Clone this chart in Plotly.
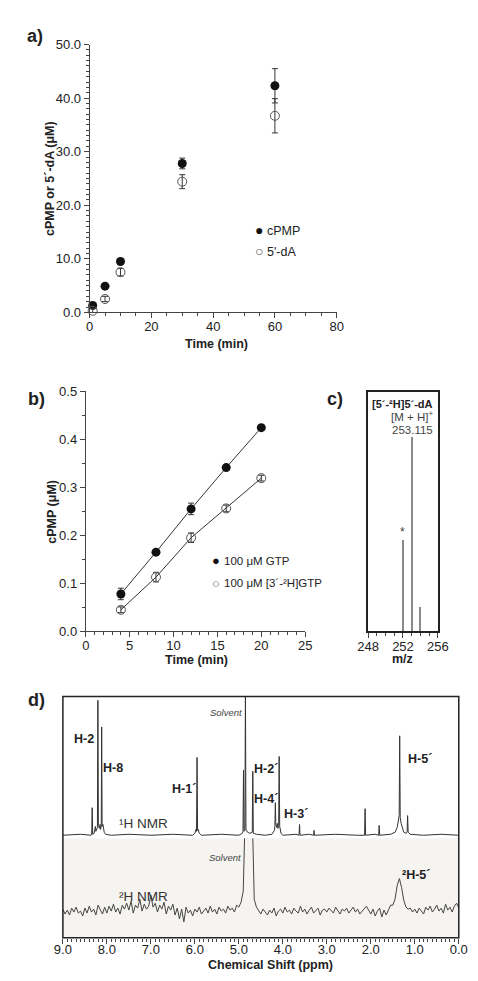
import numpy as np
import plotly.graph_objects as go

W, H = 478, 981
def px(x): return x / W
def py(y): return 1 - y / H

FONT = "Liberation Sans, Arial, sans-serif"
TXT = "#222"
AX = "#444"

# ---------------- Panel a ----------------
a_time = [1, 5, 10, 30, 60]
a_cpmp = [1.3, 4.9, 9.5, 27.8, 42.3]
a_cpmp_err = [0.2, 0.3, 0.4, 1.0, 3.2]
a_da = [0.3, 2.5, 7.5, 24.4, 36.7]
a_da_err = [0.4, 0.5, 0.7, 1.3, 3.2]

# ---------------- Panel b ----------------
b_time = [4, 8, 12, 16, 20]
b_gtp = [0.078, 0.165, 0.255, 0.341, 0.424]
b_gtp_err = [0.012, 0.005, 0.012, 0.005, 0.004]
b_d = [0.045, 0.113, 0.195, 0.256, 0.319]
b_d_err = [0.006, 0.010, 0.010, 0.007, 0.006]

# ---------------- Panel c ----------------
c_mz = [252, 253, 254]
c_int = [38, 81, 10]

# ---------------- Panel d ----------------
h1_ppm = [9.00, 8.60, 8.36, 8.345, 8.334, 8.323, 8.29, 8.27, 8.26, 8.25, 8.215, 8.204, 8.193,
          8.17, 8.155, 8.145, 8.128, 8.118, 8.108, 8.09, 8.075, 8.06, 8.03, 7.90, 7.50, 7.00,
          6.50, 6.05, 6.00, 5.975, 5.962, 5.950, 5.938, 5.925, 5.90, 5.85, 5.40, 5.00, 4.92,
          4.905, 4.894, 4.883, 4.862, 4.850, 4.838, 4.80, 4.75, 4.695, 4.683, 4.671, 4.60,
          4.40, 4.25, 4.19, 4.18, 4.170, 4.160, 4.14, 4.126, 4.11, 4.095, 4.083, 4.071, 4.055,
          4.04, 4.00, 3.70, 3.632, 3.620, 3.608, 3.40, 3.30, 3.29, 3.28, 2.80, 2.30, 2.142,
          2.130, 2.118, 1.90, 1.822, 1.810, 1.798, 1.55, 1.45, 1.40, 1.37, 1.355, 1.343, 1.331,
          1.31, 1.28, 1.25, 1.20, 1.175, 1.163, 1.151, 1.10, 0.80, 0.40, 0.00]
h1_int = [0, 1, 0, 1, 28, 1, 2, 6, 9, 4, 8, 137, 10,
          7, 11, 6, 9, 110, 9, 11, 7, 3, 1, 0, 1, 0,
          1, 0, 2, 6, 4, 79, 5, 6, 2, 0, 1, 0, 2,
          4, 66, 4, 5, 150, 6, 3, 2, 3, 65, 2, 1,
          0, 1, 5, 10, 33, 11, 8, 12, 7, 10, 80, 9, 6,
          2, 0, 1, 0, 11, 0, 1, 0, 5, 0, 1, 0, 0,
          27, 0, 1, 0, 10, 0, 1, 3, 8, 15, 20, 101, 18,
          12, 6, 3, 2, 3, 20, 3, 1, 0, 1, 0]

h2_int = [2, -3, 1, -4, 3, -1, 4, -2, 0, -5,
          3, -2, 5, -1, 2, -4, 6, 1, -3, 4,
          -2, 5, 0, 7, -1, 3, -3, 6, 2, 8,
          1, 10, -2, 6, 3, 12, 0, 7, 2, 5,
          16, 4, 8, -1, 6, 2, 9, -3, 5, 1,
          7, -4, 3, -8, 2, -11, 4, -2, 1, -5,
          2, -1, 4, -3, 0, 3, -2, 5, -1, 2,
          -3, 4, 0, 2, -2, 5, 1, 3, -1, 6,
          4, 9, 20, 110, 120, 120, 110, 12, 4, 0,
          -3, 2, -1, -4, 1, -2, 3, -5, 0, 2,
          -2, 4, -1, 1, -3, 3, 0, -2, 5, -1,
          2, -3, 1, 4, -2, 0, 3, -4, 1, 2,
          -1, 3, 0, -2, 4, 1, -3, 2, 0, 3,
          -2, 1, 4, -1, 2, -3, 0, 3, 5, 1,
          -3, 2, -5, 0, 3, -6, 1, -4, 2, 6,
          6, 12, 26, 33, 24, 11, 4, 2, 3, -1,
          2, -2, 3, 0, -3, 4, 1, 5, -1, 2,
          6, 0, 3, -2, 7, 1, 4, -1, 5, 8,
          3]
h2_ppm = np.round(np.arange(len(h2_int) - 1, -1, -1) * 0.05, 2)

fig = go.Figure()

err_style = dict(type="data", color="#333", thickness=1, width=3)

# a
fig.add_trace(go.Scatter(x=a_time, y=a_cpmp, mode="markers", cliponaxis=False,
                         marker=dict(color="#111", size=9),
                         error_y=dict(array=a_cpmp_err, **err_style), xaxis="x", yaxis="y"))
fig.add_trace(go.Scatter(x=a_time, y=a_da, mode="markers", cliponaxis=False,
                         marker=dict(color="#555", size=9, symbol="circle-open", line=dict(width=1)),
                         error_y=dict(array=a_da_err, **err_style), xaxis="x", yaxis="y"))
# b
fig.add_trace(go.Scatter(x=b_time, y=b_gtp, mode="lines+markers", cliponaxis=False,
                         line=dict(color="#333", width=1),
                         marker=dict(color="#111", size=9),
                         error_y=dict(array=b_gtp_err, **err_style), xaxis="x2", yaxis="y2"))
fig.add_trace(go.Scatter(x=b_time, y=b_d, mode="lines+markers", cliponaxis=False,
                         line=dict(color="#333", width=1),
                         marker=dict(color="#555", size=9, symbol="circle-open", line=dict(width=1)),
                         error_y=dict(array=b_d_err, **err_style), xaxis="x2", yaxis="y2"))
# c
fig.add_trace(go.Bar(x=c_mz, y=c_int, width=0.12, marker=dict(color="#8a8a8a", line=dict(width=0)),
                     xaxis="x3", yaxis="y3"))
# d
fig.add_trace(go.Scatter(x=h1_ppm, y=h1_int, mode="lines", line=dict(color="#333", width=1),
                         xaxis="x4", yaxis="y4"))
fig.add_trace(go.Scatter(x=h2_ppm, y=h2_int, mode="lines", line=dict(color="#444", width=1),
                         xaxis="x4", yaxis="y5"))

tickfont = dict(family=FONT, size=13, color=TXT)

def xax(domain, rng, anchor, dtick, mdtick, fmt=None, **kw):
    d = dict(domain=domain, range=rng, anchor=anchor, dtick=dtick, tick0=0,
             showline=True, linecolor=AX, linewidth=1, ticks="outside", ticklen=5,
             tickcolor=AX, tickwidth=1, showgrid=False, zeroline=False, tickfont=tickfont,
             minor=dict(dtick=mdtick, ticks="outside", ticklen=3, tickcolor=AX, showgrid=False))
    if fmt:
        d["tickformat"] = fmt
    d.update(kw)
    return d

fig.update_layout(
    width=W, height=H, margin=dict(l=0, r=0, t=0, b=0),
    paper_bgcolor="white", plot_bgcolor="rgba(0,0,0,0)",
    showlegend=False, font=dict(family=FONT, color=TXT),
    xaxis=xax([px(74), px(333)], [0, 80], "y", 20, 5, ticklabelstandoff=-3),
    yaxis=xax([py(302), py(30)], [0, 50], "x", 10, 1, ".1f"),
    xaxis2=xax([px(70), px(300)], [0, 25], "y2", 5, 1, ticklabelstandoff=-3),
    yaxis2=xax([py(626), py(382)], [0, 0.5], "x2", 0.1, 0.05, ".1f"),
    xaxis3=xax([px(366), px(439)], [248, 256], "y3", 4, 1, None, mirror=True,
               linecolor="#222", linewidth=1.5, tick0=248, ticklabelstandoff=-3),
    yaxis3=dict(domain=[py(626), py(383)], range=[0, 100], anchor="x3", showline=True,
                mirror=True, linecolor="#222", linewidth=2, showticklabels=False, ticks="",
                showgrid=False, zeroline=False),
    xaxis4=xax([px(46), px(461)], [9, 0], "y5", 1, 0.1, ".1f", showline=False,
               ticklabelstandoff=-5),
    yaxis4=dict(domain=[py(836), py(692)], range=[-3, 141], anchor="x4", visible=False),
    yaxis5=dict(domain=[py(937), py(836)], range=[-27, 74], anchor="x4", visible=False),
    bargap=0,
)

# Panel d frame and shaded 2H region
fig.add_shape(type="rect", xref="paper", yref="paper", x0=px(46), x1=px(461),
              y0=py(937), y1=py(836), fillcolor="#f6f4f1", line=dict(width=0), layer="below")
fig.add_shape(type="rect", xref="paper", yref="paper", x0=px(46), x1=px(461),
              y0=py(937), y1=py(692), line=dict(color="#222", width=1.5), layer="above")

def ann(text, x, y, size=13, bold=False, italic=False, angle=0, color=TXT, xanchor="center"):
    if bold:
        text = "<b>" + text + "</b>"
    if italic:
        text = "<i>" + text + "</i>"
    fig.add_annotation(text=text, x=px(x), y=py(y), xref="paper", yref="paper",
                       showarrow=False, textangle=angle, xanchor=xanchor, yanchor="middle",
                       font=dict(family=FONT, size=size, color=color))

# panel labels
ann("a)", 17, 21, 18, bold=True)
ann("b)", 18, 390, 18, bold=True)
ann("c)", 331, 390, 18, bold=True)
ann("d)", 18, 696, 18, bold=True)

# axis titles
ann("cPMP or 5´-dA (μM)", 33, 166, 12.5, bold=True, angle=-90)
ann("Time (min)", 207, 334, 12.5, bold=True)
ann("cPMP (μM)", 35, 504, 12.5, bold=True, angle=-90)
ann("Time (min)", 186, 655, 12.5, bold=True)
ann("m/z", 402, 654, 12.5, bold=True)
ann("Chemical Shift (ppm)", 264, 965, 12.5, bold=True)

# legend a
ann("●", 252, 218, 14, color="#111")
ann("cPMP", 258, 219, 12.5, xanchor="left")
ann("○", 252, 240, 14, color="#555")
ann("5'-dA", 258, 241, 12.5, xanchor="left")

# legend b
ann("●", 207, 554, 13, color="#111")
ann("100 μM GTP", 213, 554, 11.5, xanchor="left")
ann("○", 207, 577, 13, color="#555")
ann("100 μM [3´-²H]GTP", 213, 577, 11.5, xanchor="left")

# panel c
ann("[5´-²H]5´-dA", 402, 395, 11, bold=True)
ann("[M + H]<sup>+</sup>", 412, 407, 11.5, color="#444")
ann("253.115", 412, 421, 11.5, color="#444")
ann("*", 402, 525, 12, color="#444")

# panel d labels
ann("H-2", 68, 735, 12.5, bold=True)
ann("H-8", 99, 765, 12.5, bold=True)
ann("H-1´", 173, 786, 12.5, bold=True)
ann("Solvent", 217, 708, 9.5, italic=True, color="#444")
ann("H-2´", 259, 766, 12.5, bold=True)
ann("H-4´", 259, 796, 12.5, bold=True)
ann("H-3´", 290, 811, 12.5, bold=True)
ann("H-5´", 420, 756, 12.5, bold=True)
ann("¹H NMR", 131, 821, 13.5, color="#333")
ann("Solvent", 216, 856, 9.5, italic=True, color="#444")
ann("²H NMR", 131, 895, 13.5, color="#333")
ann("²H-5´", 416, 873, 12.5, bold=True)

fig.write_html("out.html")
